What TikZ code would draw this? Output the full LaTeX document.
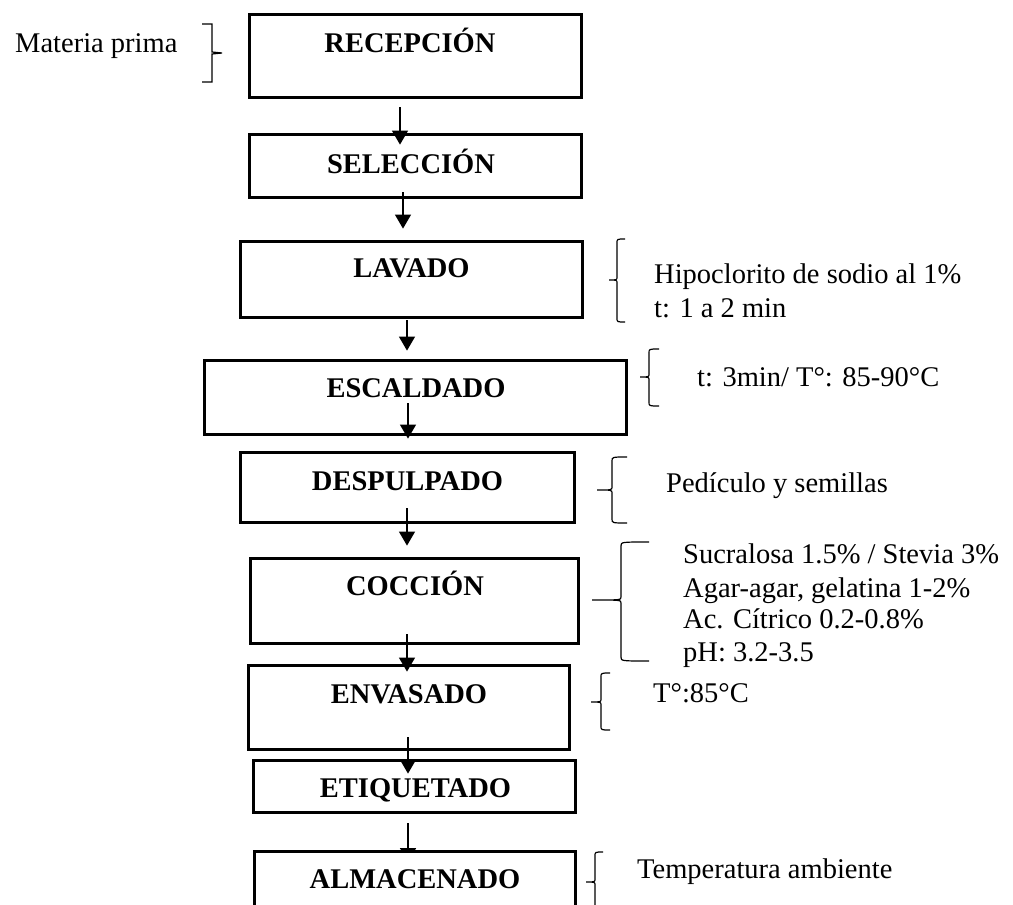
\documentclass[tikz,border=0pt]{standalone}
\usepackage{fontspec}
\setmainfont{Liberation Serif}
\usetikzlibrary{arrows.meta,calc}
\pgfdeclarelayer{back}
\pgfsetlayers{back,main}

% "{" brace: #1 x of the stem, #2 top, #3 point, #4 bottom, #5 point length, #6 hook length
\newcommand\bracel[6]{%
  \draw[brc] (#1+#6,#2) .. controls (#1,#2) .. (#1,#2+4) -- (#1,#3-3)
    .. controls (#1,#3) .. (#1-#5,#3) .. controls (#1,#3) .. (#1,#3+3)
    -- (#1,#4-4) .. controls (#1,#4) .. (#1+#6,#4);}
% "}" brace, same arguments, mirrored
\newcommand\bracer[6]{%
  \draw[brc] (#1-#6,#2) -- (#1,#2) -- (#1,#3-1) -- (#1+#5,#3) -- (#1,#3+1)
    -- (#1,#4) -- (#1-#6,#4);}

\begin{document}
\begin{tikzpicture}[x=1pt,y=-1pt,
  box/.style={draw, line width=2.8pt, rectangle, inner sep=0pt},
  stepname/.style={font=\fontsize{28.5}{32}\selectfont\bfseries, anchor=base, inner sep=0pt},
  note/.style={font=\fontsize{28.5}{32}\selectfont, anchor=base west, inner sep=0pt},
  arr/.style={line width=1.3pt, -{Triangle[width=16pt,length=14pt]}},
  brc/.style={line width=1.2pt}]

\clip (0,0) rectangle (1013,905);

% process steps
\node[box, minimum width=332pt, minimum height=83pt] (rec) at (415.5,56) {};
\node[stepname] (rec-t) at (410,52) {RECEPCIÓN};
\node[box, minimum width=332pt, minimum height=63pt] (sel) at (415.5,166) {};
\node[stepname] (sel-t) at (411,173) {SELECCIÓN};
\node[box, minimum width=342pt, minimum height=76pt] (lav) at (411.5,279.5) {};
\node[stepname] (lav-t) at (411.5,277) {LAVADO};
\node[box, minimum width=422pt, minimum height=74pt] (esc) at (415.5,397.5) {};
\node[stepname] (esc-t) at (416,397) {ESCALDADO};
\node[box, minimum width=334pt, minimum height=70pt] (des) at (407.5,487.5) {};
\node[stepname] (des-t) at (407.5,490) {DESPULPADO};
\node[box, minimum width=328pt, minimum height=85pt] (coc) at (414.5,601) {};
\node[stepname] (coc-t) at (415,595) {COCCIÓN};
\node[box, minimum width=321pt, minimum height=84pt] (env) at (409,707.5) {};
\node[stepname] (env-t) at (409,703) {ENVASADO};
\node[box, minimum width=322pt, minimum height=52pt] (eti) at (414.5,786.5) {};
\node[stepname] (eti-t) at (415.5,797) {ETIQUETADO};
\node[box, fill=white, minimum width=321pt, minimum height=80pt] (alm) at (415,891.5) {};
\node[stepname] (alm-t) at (415,888) {ALMACENADO};

% flow arrows
\draw[arr] ($(rec.south)+(-15.5,8.5)$) -- ($(sel.north)+(-15.5,11.5)$);
\draw[arr] ($(sel.south)+(-12.5,-6.5)$) -- ($(lav.north)+(-8.5,-11.5)$);
\draw[arr] ($(lav.south)+(-4.5,1.5)$) -- ($(esc.north)+(-8.5,-8.5)$);
\draw[arr] ($(esc.south)+(-7.5,-32.5)$) -- ($(des.north)+(0.5,-12.5)$);
\draw[arr] ($(des.south)+(-0.5,-15.5)$) -- ($(coc.north)+(-7.5,-11.5)$);
\draw[arr] ($(coc.south)+(-7.5,-10.5)$) -- ($(env.north)+(-2,7.5)$);
\draw[arr] ($(env.south)+(-1,-13.5)$) -- ($(eti.north)+(-6.5,14.5)$);
\begin{pgfonlayer}{back}
\draw[arr] ($(eti.south)+(-6.5,9.5)$) -- ($(alm.north)+(-7,12)$);
\end{pgfonlayer}

% input
\node[note] (mp) at (15,52) {Materia prima};
\bracer{212}{24}{53}{82}{10}{10}

% process conditions
\bracel{617}{239}{280}{322}{8}{8}
\node[note] (lav-n1) at (654,283) {Hipoclorito de sodio al 1\%};
\node[note] (lav-n2) at (654,317) {t: 1 a 2 min};

\bracel{649}{349}{377}{406}{9}{10}
\node[note] (esc-n) at (697,386) {t: 3min/ T°: 85-90°C};

\bracel{612}{457}{490}{523}{15}{15}
\node[note] (des-n) at (666,492) {Pedículo y semillas};

\bracel{621}{542}{600}{661}{29}{28}
\node[note] (coc-n1) at (683,563) {Sucralosa 1.5\% / Stevia 3\%};
\node[note] (coc-n2) at (683,597) {Agar-agar, gelatina 1-2\%};
\node[note] (coc-n3) at (683,628) {Ac. Cítrico 0.2-0.8\%};
\node[note] (coc-n4) at (683,661) {pH: 3.2-3.5};

\bracel{601}{673}{702}{730}{10}{9}
\node[note] (env-n) at (653,702) {T°:85°C};

\bracel{595}{852}{882}{930}{9}{8}
\node[note] (alm-n) at (637,878) {Temperatura ambiente};
\end{tikzpicture}
\end{document}
